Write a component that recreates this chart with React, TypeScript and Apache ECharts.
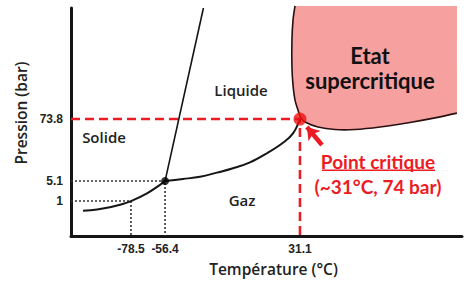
import React, { useEffect, useRef } from "react";
import * as echarts from "echarts";

// Temperature axis (°C) and schematic pressure levels (diagram is not to scale)
const tempTicks = [-78.5, -56.4, 31.1];
const pressureTicks = ["1", "5.1", "73.8"];
const pressureLevels = [15.35, 24.1, 51.3];

// Triple point and critical point [°C, level]
const triplePoint = [-56.4, 24.1];
const criticalPoint = [31.1, 51.3];

// Sublimation curve (solid/gas)
const sublimT = [-109.6, -100.5, -92.1, -85.6, -78.5, -68.1, -59.7, -56.4];
const sublimP = [11.1, 11.6, 12.6, 13.7, 15.3, 18.7, 22.4, 24.1];

// Vaporization curve (liquid/gas)
const vapT = [-56.4, -44.8, -33.7, -22.7, -12.3, -1.3, 9.7, 20.1, 26.6, 31.1];
const vapP = [24.1, 25.0, 26.0, 27.8, 29.7, 32.3, 36.3, 40.9, 45.0, 51.3];

// Fusion curve (solid/liquid)
const fusT = [-56.4, -31.5];
const fusP = [24.1, 100];

// Supercritical region boundary
const superT = [27.9, 26.6, 25.9, 25.9, 26.6, 27.9, 29.8, 31.7, 34.4, 42.8, 53.8, 66.8, 83.0, 102.4, 118.7, 132.9];
const superP = [100.9, 94.7, 86.0, 74.1, 66.2, 59.6, 55.3, 51.8, 50.0, 47.8, 46.7, 46.7, 47.8, 49.8, 51.8, 53.9];

// Arrow pointing at the critical point
const arrowTail = [45.4, 39.9];
const arrowHead = [35.6, 47.8];

const X_MIN = -117.4;
const X_MAX = 136.2;
const Y_MIN = 0;
const Y_MAX = 100;

const RED = "#ec1c24";
const INK = "#151515";

const zip = (a: number[], b: number[]) => a.map((v, i) => [v, b[i]]);

export default function App() {
  const ref = useRef<HTMLDivElement>(null);

  useEffect(() => {
    if (!ref.current) return;
    const chart = echarts.init(ref.current, undefined, { renderer: "svg" });

    const dotted = { color: "#333", width: 1.6, type: [2, 2] as number[] };
    const dashedRed = { color: RED, width: 2.6, type: [9, 5] as number[] };
    const regionText = { fontFamily: "Open Sans", fontSize: 15, fontWeight: 600, fill: "#222", align: "center", verticalAlign: "middle" };

    chart.setOption({
      animation: false,
      backgroundColor: "#fff",
      grid: { left: 71, right: 2, top: 8, bottom: 46 },
      xAxis: {
        type: "value",
        min: X_MIN,
        max: X_MAX,
        name: "Température (°C)",
        nameLocation: "middle",
        nameGap: 25,
        nameTextStyle: {
          fontFamily: "Open Sans",
          fontSize: 15.5,
          fontWeight: 600,
          color: "#222",
          padding: [0, 0, 0, 14],
        },
        axisLine: { show: true, onZero: false, lineStyle: { color: INK, width: 3 } },
        axisTick: { show: false },
        splitLine: { show: false },
        axisLabel: {
          customValues: tempTicks,
          formatter: (v: number) => String(v),
          fontFamily: "Liberation Sans",
          fontWeight: "bold",
          fontSize: 12,
          color: "#222",
          margin: 7,
        },
      },
      yAxis: {
        type: "value",
        min: Y_MIN,
        max: Y_MAX,
        name: "Pression (bar)",
        nameLocation: "middle",
        nameGap: 37,
        nameTextStyle: {
          fontFamily: "Open Sans",
          fontSize: 15.5,
          fontWeight: 600,
          color: "#222",
          padding: [0, 0, 0, 18],
        },
        axisLine: { show: true, onZero: false, lineStyle: { color: INK, width: 3 } },
        axisTick: { show: false },
        splitLine: { show: false },
        axisLabel: {
          customValues: pressureLevels,
          formatter: (v: number) => {
            const i = pressureLevels.findIndex((p) => Math.abs(p - v) < 1e-6);
            return i >= 0 ? pressureTicks[i] : "";
          },
          fontFamily: "Liberation Sans",
          fontWeight: "bold",
          fontSize: 12,
          color: "#222",
          margin: 8,
        },
      },
      series: [
        {
          type: "custom",
          clip: false,
          z: 1,
          data: [[0, 0]],
          renderItem: (_p: any, api: any) => {
            const pts = superT.map((t, i) => api.coord([t, superP[i]]));
            const last = pts[pts.length - 1];
            const first = pts[0];
            const fillPts = [...pts, [last[0], first[1]]];
            return {
              type: "group",
              children: [
                {
                  type: "polygon",
                  shape: { points: fillPts, smooth: 0 },
                  style: { fill: "#f6a0a0", stroke: "none" },
                },
                {
                  type: "polyline",
                  shape: { points: pts, smooth: 0.3 },
                  style: { fill: "none", stroke: "#2a1010", lineWidth: 1.6 },
                },
              ],
            };
          },
        },
        {
          type: "line",
          z: 3,
          data: zip(sublimT, sublimP),
          smooth: 0.4,
          symbol: "none",
          lineStyle: { color: INK, width: 2 },
        },
        {
          type: "line",
          z: 3,
          data: zip(vapT, vapP),
          smooth: 0.4,
          symbol: "none",
          lineStyle: { color: INK, width: 2 },
        },
        {
          type: "line",
          z: 3,
          data: zip(fusT, fusP),
          symbol: "none",
          lineStyle: { color: INK, width: 1.6 },
        },
        // dotted guides to the triple point and 1 bar point
        {
          type: "line",
          z: 2,
          data: [[X_MIN, triplePoint[1]], triplePoint, [triplePoint[0], Y_MIN]],
          symbol: "none",
          lineStyle: dotted,
        },
        {
          type: "line",
          z: 2,
          data: [[X_MIN, pressureLevels[0]], [tempTicks[0], pressureLevels[0]], [tempTicks[0], Y_MIN]],
          symbol: "none",
          lineStyle: dotted,
        },
        // red dashed guides to the critical point
        {
          type: "line",
          z: 2,
          data: [[X_MIN, criticalPoint[1]], criticalPoint, [criticalPoint[0], Y_MIN]],
          symbol: "none",
          lineStyle: dashedRed,
        },
        {
          type: "scatter",
          z: 5,
          data: [triplePoint],
          symbolSize: 8,
          itemStyle: { color: "#000" },
        },
        {
          type: "scatter",
          z: 5,
          data: [criticalPoint],
          symbolSize: 13,
          itemStyle: { color: "#f01010" },
        },
        {
          type: "lines",
          coordinateSystem: "cartesian2d",
          z: 5,
          symbol: ["none", "arrow"],
          symbolSize: [0, 12],
          lineStyle: { color: RED, width: 4.5, opacity: 1 },
          data: [{ coords: [arrowTail, arrowHead] }],
        },
      ],
      graphic: [
        { type: "text", x: 241, y: 90, style: { ...regionText, text: "Liquide" } },
        { type: "text", x: 104, y: 137, style: { ...regionText, text: "Solide" } },
        { type: "text", x: 242, y: 200, style: { ...regionText, text: "Gaz" } },
        {
          type: "text",
          x: 370,
          y: 55,
          z: 10,
          style: { text: "Etat", fontFamily: "Lato", fontSize: 22, fontWeight: "bold", fill: "#111", align: "center", verticalAlign: "middle" },
        },
        {
          type: "text",
          x: 370,
          y: 80,
          z: 10,
          style: { text: "supercritique", fontFamily: "Lato", fontSize: 22, fontWeight: "bold", fill: "#111", align: "center", verticalAlign: "middle" },
        },
        {
          type: "text",
          x: 378,
          y: 161,
          style: { text: "Point critique", fontFamily: "Lato", fontSize: 19, fontWeight: "bold", fill: RED, align: "center", verticalAlign: "middle" },
        },
        {
          type: "rect",
          shape: { x: 322, y: 169.5, width: 113, height: 1.6 },
          style: { fill: RED },
        },
        {
          type: "text",
          x: 378,
          y: 186.5,
          style: { text: "(~31°C, 74 bar)", fontFamily: "Lato", fontSize: 19, fontWeight: "bold", fill: RED, align: "center", verticalAlign: "middle" },
        },
      ],
    });

    return () => chart.dispose();
  }, []);

  return (
    <div
      ref={ref}
      style={{ position: "absolute", left: 0, top: 0, width: 464, height: 282 }}
    />
  );
}
